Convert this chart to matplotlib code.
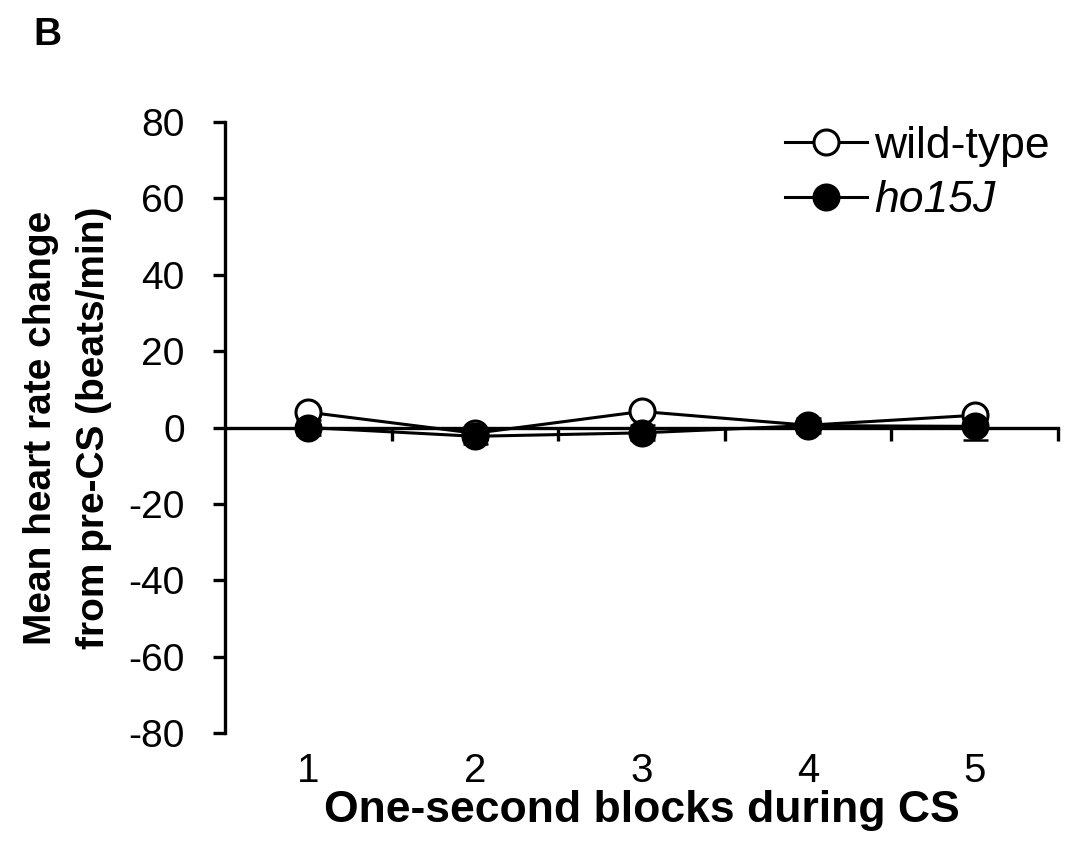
import matplotlib
matplotlib.use('Agg')
import matplotlib.pyplot as plt

plt.rcParams['font.family'] = ['Liberation Sans', 'DejaVu Sans']
plt.rcParams['axes.unicode_minus'] = False

blocks = [1, 2, 3, 4, 5]
block_labels = ['1', '2', '3', '4', '5']
wild_type = [4.0, -1.5, 4.2, 0.6, 3.2]
wild_type_err = [1.0, 1.0, 1.0, 1.0, 1.0]
ho15j = [0.0, -2.3, -1.4, 0.5, 0.3]
ho15j_err = [2.0, 2.0, 2.0, 2.0, 3.6]
y_ticks = [-80, -60, -40, -20, 0, 20, 40, 60, 80]

fig = plt.figure(figsize=(10.7, 8.57), dpi=100)
ax = fig.add_axes([0.2103, 0.1447, 0.7785, 0.7129])

# error bars first, lines + markers on top
ax.errorbar(blocks, wild_type, yerr=wild_type_err, fmt='none', ecolor='black',
            elinewidth=1.8, capsize=9, capthick=1.8, zorder=2)
ax.errorbar(blocks, ho15j, yerr=ho15j_err, fmt='none', ecolor='black',
            elinewidth=1.8, capsize=9, capthick=1.8, zorder=2)
ax.plot(blocks, wild_type, color='black', lw=2.2, marker='o', ms=18,
        mfc='white', mec='black', mew=2.2, label='wild-type', zorder=3)
ax.plot(blocks, ho15j, color='black', lw=2.2, marker='o', ms=18,
        mfc='black', mec='black', mew=2.2, label='ho15J', zorder=4)

ax.set_xlim(0.5, 5.5)
ax.set_ylim(-80, 80)
ax.set_yticks(y_ticks)
ax.set_xticks(blocks)
ax.set_xticklabels(block_labels)

for s in ['top', 'right', 'bottom']:
    ax.spines[s].set_visible(False)
ax.spines['left'].set_linewidth(2.4)
ax.tick_params(axis='y', direction='out', length=9, width=2.4, labelsize=28, pad=20)
ax.tick_params(axis='x', length=0, labelsize=29, pad=14)

# zero line with category ticks between blocks
sec = ax.secondary_xaxis(0.5)
sec.set_alignment('bottom')
sec.set_xticks([1.5, 2.5, 3.5, 4.5, 5.5])
sec.set_xticklabels([])
sec.tick_params(axis='x', direction='out', length=9, width=2.4)
sec.spines['bottom'].set_linewidth(2.4)

ax.set_xlabel('One-second blocks during CS', fontsize=32, fontweight='bold', labelpad=0)
ax.set_ylabel('Mean heart rate change\nfrom pre-CS (beats/min)', fontsize=28,
              fontweight='bold', labelpad=12, linespacing=1.6)

leg = ax.legend(loc='upper right', bbox_to_anchor=(0.981, 0.853),
                bbox_transform=fig.transFigure, frameon=False,
                fontsize=32, handlelength=1.85, handletextpad=0.15,
                labelspacing=0.3, borderaxespad=0, borderpad=0)
leg.get_texts()[1].set_style('italic')

fig.text(0.031, 0.959, 'B', fontsize=28, fontweight='bold', va='center')

fig.savefig('out.png', dpi=100)
